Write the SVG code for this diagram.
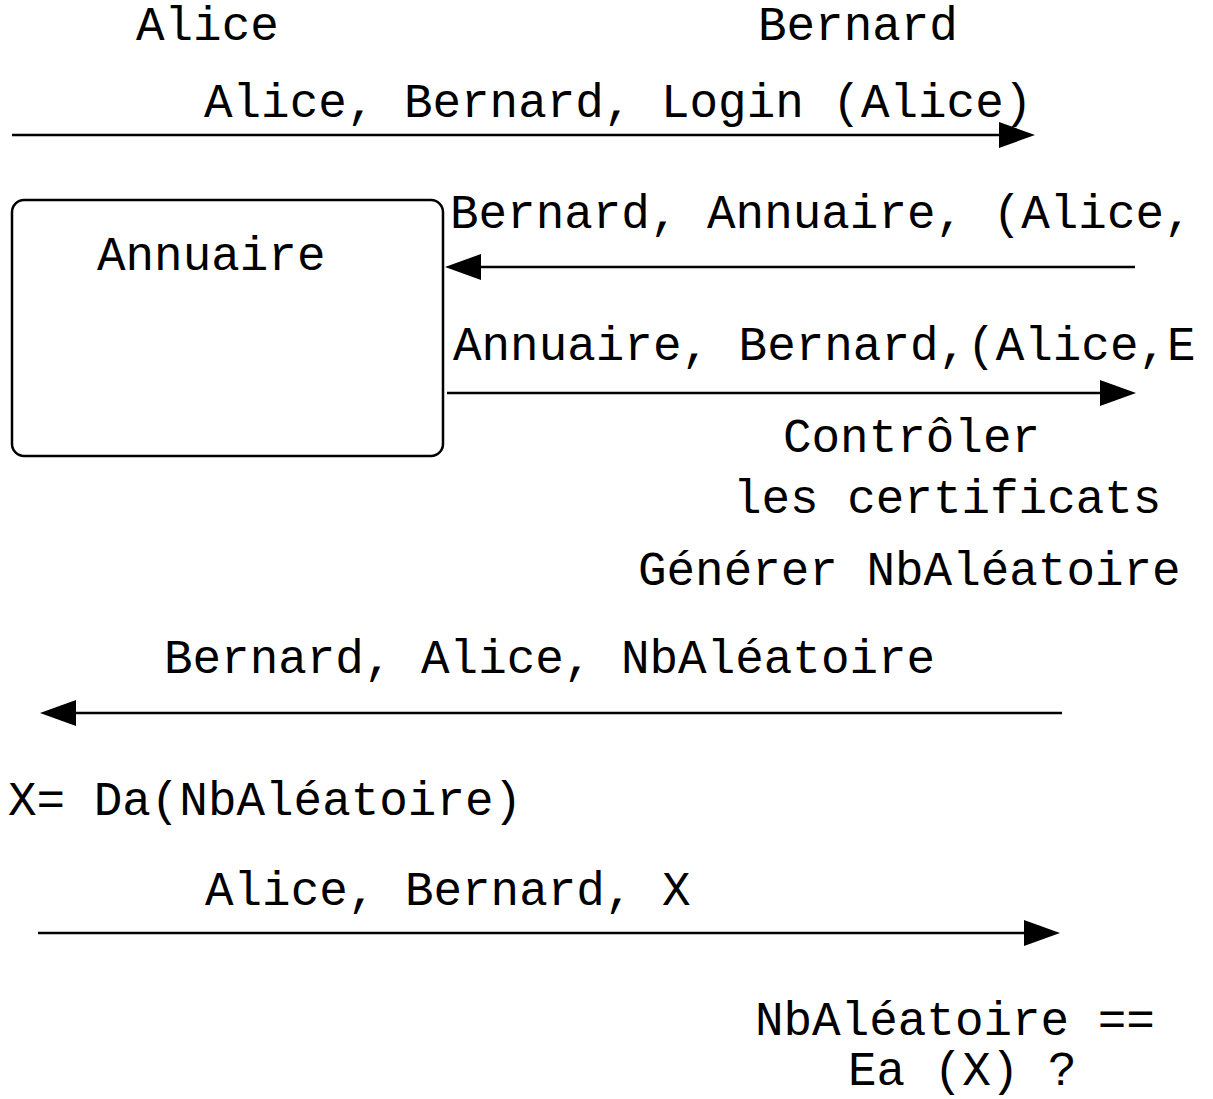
<svg xmlns="http://www.w3.org/2000/svg" width="1213" height="1099" viewBox="0 0 1213 1099">
  <style>
    text { font-family: "Liberation Mono", "DejaVu Sans Mono", monospace; font-size: 47.6px; fill: #000; }
    .msg { stroke: #000; stroke-width: 2.5; fill: none; }
    .box { stroke: #000; stroke-width: 2.5; fill: #fff; }
  </style>
  <defs>
    <marker id="head" markerUnits="userSpaceOnUse" markerWidth="38" markerHeight="28" refX="1" refY="13" orient="auto">
      <path d="M0,0 L36,13 L0,26 Z" fill="#000"/>
    </marker>
  </defs>

  <rect width="1213" height="1099" fill="#fff"/>

  <!-- participants -->
  <g id="alice"><text x="136" y="40">Alice</text></g>
  <g id="bernard"><text x="758" y="40">Bernard</text></g>

  <!-- directory node -->
  <g id="annuaire">
    <rect class="box" x="12" y="200" width="431" height="256" rx="12" ry="12"/>
    <text x="97" y="270">Annuaire</text>
  </g>

  <!-- message arrows -->
  <g id="connectors">
    <line class="msg" x1="12" y1="135" x2="1000" y2="135" marker-end="url(#head)"/>
    <line class="msg" x1="1135" y1="267" x2="480" y2="267" marker-end="url(#head)"/>
    <line class="msg" x1="447" y1="393" x2="1101" y2="393" marker-end="url(#head)"/>
    <line class="msg" x1="1062" y1="713" x2="75" y2="713" marker-end="url(#head)"/>
    <line class="msg" x1="38" y1="933" x2="1025" y2="933" marker-end="url(#head)"/>
  </g>

  <!-- message labels and steps -->
  <g id="labels">
    <text x="204" y="117">Alice, Bernard, Login (Alice)</text>
    <text x="450" y="228">Bernard, Annuaire, (Alice,</text>
    <text x="453" y="360">Annuaire, Bernard,(Alice,E</text>
    <text x="783" y="452">Contrôler</text>
    <text x="733" y="513">les certificats</text>
    <text x="638" y="585">Générer NbAléatoire</text>
    <text x="164" y="673">Bernard, Alice, NbAléatoire</text>
    <text x="8" y="815">X= Da(NbAléatoire)</text>
    <text x="205" y="905">Alice, Bernard, X</text>
    <text x="755" y="1035">NbAléatoire ==</text>
    <text x="848" y="1085">Ea (X) ?</text>
  </g>
</svg>
